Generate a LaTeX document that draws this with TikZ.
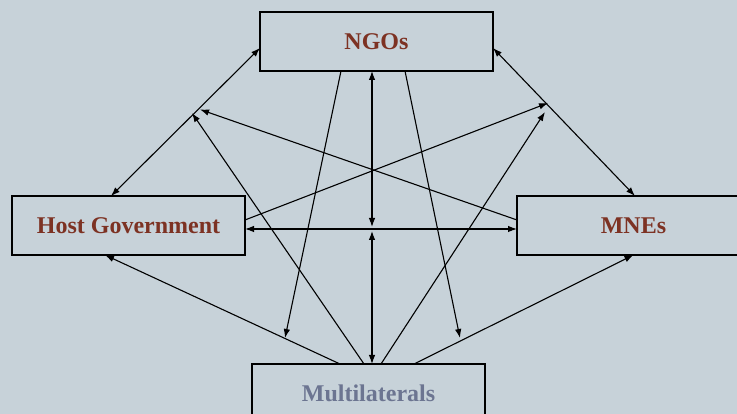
\documentclass[tikz,border=0pt]{standalone}
\usepackage{fontspec}
\setmainfont{Liberation Serif}
\usetikzlibrary{arrows.meta,calc}
\definecolor{bgc}{RGB}{199,210,217}
\definecolor{redt}{RGB}{125,50,35}
\definecolor{bluet}{RGB}{108,117,145}
\begin{document}
\begin{tikzpicture}[x=1pt,y=1pt,
  box/.style={draw=black,line width=1.4pt,minimum width=233pt,minimum height=59pt,
    inner sep=0pt,outer sep=0pt,font=\fontsize{24}{28}\selectfont\bfseries},
  conn/.style={line width=1.1pt},
  >={Latex[length=9pt,width=6.5pt]}]
\fill[bgc] (0,0) rectangle (737,414);
\useasboundingbox (0,0) rectangle (737,414);
\clip (0,0) rectangle (737,414);
\node[box,text=redt] (ngo) at (376.5,372.5) {NGOs};
\node[box,text=redt] (hg) at (128.5,188.5) {Host Government};
\node[box,text=redt] (mne) at (633.5,188.5) {MNEs};
\node[box,text=bluet] (ml) at (368.5,20.5) {Multilaterals};
\coordinate (ja) at (192,301);
\coordinate (jb) at (200,304.5);
\coordinate (jc) at (548,311);
\coordinate (jd) at (545,302);
\coordinate (je) at (285,76);
\coordinate (jf) at (460,76);
\coordinate (jg) at (372,187);
\coordinate (jh) at (372,183);
\draw[conn,<->] ([xshift=-17.5pt]hg.north) -- ([yshift=-6.5pt]ngo.west);
\draw[conn,<->] ([yshift=-6.5pt]ngo.east) -- ([xshift=1.5pt]mne.north);
\draw[conn,->] ([yshift=5.5pt]mne.west) -- (jb);
\draw[conn,->] ([xshift=-4.5pt]ml.north) -- (ja);
\draw[conn,->] ([yshift=5.5pt]hg.east) -- (jc);
\draw[conn,->] ([xshift=12.5pt]ml.north) -- (jd);
\draw[conn,->] ([xshift=-28.5pt]ml.north) -- ([xshift=-23.5pt]hg.south);
\draw[conn,->] ([xshift=45.5pt]ml.north) -- (mne.south);
\draw[conn,->] ([xshift=-35.5pt]ngo.south) -- (je);
\draw[conn,->] ([xshift=28.5pt]ngo.south) -- (jf);
\draw[conn,<->] ([yshift=-3.5pt]hg.east) -- ([yshift=-3.5pt]mne.west);
\draw[conn,<->] ([xshift=-4.5pt]ngo.south) -- (jg);
\draw[conn,<->] ([xshift=3.5pt]ml.north) -- (jh);
\end{tikzpicture}
\end{document}
